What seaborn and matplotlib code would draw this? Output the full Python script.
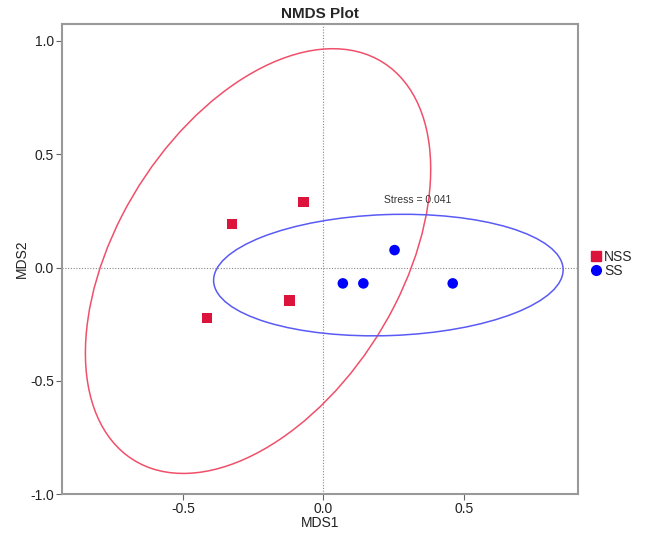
import numpy as np
import pandas as pd
import matplotlib
matplotlib.use('Agg')
import matplotlib.pyplot as plt
from matplotlib.patches import Ellipse
from matplotlib.lines import Line2D
import seaborn as sns

# NMDS scores
groups = ['NSS', 'NSS', 'NSS', 'NSS', 'SS', 'SS', 'SS', 'SS']
mds1 = [-0.326, -0.070, -0.121, -0.414, 0.069, 0.142, 0.253, 0.460]
mds2 = [0.192, 0.289, -0.145, -0.222, -0.070, -0.070, 0.077, -0.070]
stress = 0.041

group_names = ['NSS', 'SS']
point_colors = {'NSS': '#DC143C', 'SS': '#0000FF'}
ellipse_colors = {'NSS': '#F0506A', 'SS': '#5A5AF5'}
ellipse_scale = {'NSS': 3.75, 'SS': 3.65}

df = pd.DataFrame({'MDS1': mds1, 'MDS2': mds2, 'group': groups})

sns.set_style('white')
plt.rcParams['font.family'] = ['Liberation Sans', 'DejaVu Sans']
plt.rcParams['axes.unicode_minus'] = False

fig = plt.figure(figsize=(6.47, 5.33), dpi=100)
ax = fig.add_axes([0.096, 0.073, 0.797, 0.882])

# reference lines at origin
ax.axhline(0, color='#888888', lw=0.8, ls=(0, (1, 1.5)), zorder=1)
ax.axvline(0, color='#888888', lw=0.8, ls=(0, (1, 1.5)), zorder=1)

# covariance ellipses for each group
for g in group_names:
    sub = df[df['group'] == g]
    pts = sub[['MDS1', 'MDS2']].to_numpy()
    center = pts.mean(axis=0)
    cov = np.cov(pts, rowvar=False)
    vals, vecs = np.linalg.eigh(cov)
    angle = np.degrees(np.arctan2(vecs[1, 1], vecs[0, 1]))
    k = ellipse_scale[g]
    w = 2 * k * np.sqrt(vals[1])
    h = 2 * k * np.sqrt(vals[0])
    ax.add_patch(Ellipse(center, w, h, angle=angle, fill=False,
                         edgecolor=ellipse_colors[g], lw=1.1, zorder=2))

sns.scatterplot(data=df, x='MDS1', y='MDS2', hue='group', style='group',
                palette=point_colors, markers={'NSS': 's', 'SS': 'o'},
                s=58, edgecolor='none', legend=False, ax=ax, zorder=3)

ax.text(0.217, 0.30, 'Stress = {:.3f}'.format(stress), fontsize=7.5,
        color='#333333', va='center', ha='left')

ax.set_xlim(-0.93, 0.905)
ax.set_ylim(-1.0, 1.075)
ax.set_xticks([-0.5, 0.0, 0.5])
ax.set_yticks([-1.0, -0.5, 0.0, 0.5, 1.0])
ax.tick_params(axis='both', which='both', direction='out', length=4,
               color='#666666', labelsize=10, labelcolor='#222222',
               left=True, bottom=True, pad=2)
for sp in ax.spines.values():
    sp.set_color('#999999')
    sp.set_linewidth(1.5)

ax.set_xlabel('MDS1', fontsize=10, labelpad=0, color='#222222')
ax.set_ylabel('MDS2', fontsize=10, labelpad=1, color='#222222')
ax.set_title('NMDS Plot', fontsize=11, fontweight='bold', pad=4)

handles = [Line2D([], [], ls='none', marker='s', color=point_colors['NSS'],
                  markersize=7, label='NSS'),
           Line2D([], [], ls='none', marker='o', color=point_colors['SS'],
                  markersize=7, label='SS')]
ax.legend(handles=handles, loc='center left', bbox_to_anchor=(1.0, 0.49),
          frameon=False, fontsize=10, handlelength=0.6, handletextpad=0.3,
          labelspacing=0.0, borderaxespad=0.6)

fig.savefig('out.png', dpi=100)
